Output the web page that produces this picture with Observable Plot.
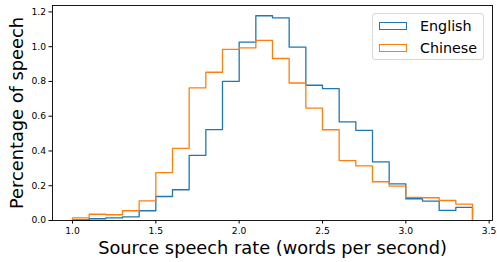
<!DOCTYPE html>
<html>
<head>
<meta charset="utf-8">
<script src="https://cdn.jsdelivr.net/npm/d3@7"></script>
<script src="https://cdn.jsdelivr.net/npm/@observablehq/plot@0.6"></script>
<style>
  html, body { margin: 0; padding: 0; background: #fff; }
  #wrap { position: relative; width: 497px; height: 262px; font-family: "DejaVu Sans", sans-serif; }
  #legend { position: absolute; left: 372px; top: 13px; width: 112px; height: 47px;
    border: 1px solid #d9d9d9; border-radius: 3px; background: rgba(255,255,255,0.8); box-sizing: border-box; }
  .item { position: absolute; left: 6px; height: 16px; display: flex; align-items: center; font-size: 14.3px; color: #000; }
  .sw { width: 28px; height: 8px; border: 1.3px solid; box-sizing: border-box; margin-right: 13px; }
</style>
</head>
<body>
<div id="wrap"></div>
<script>
const binEdges = [1.0,1.1,1.2,1.3,1.4,1.5,1.6,1.7,1.8,1.9,2.0,2.1,2.2,2.3,2.4,2.5,2.6,2.7,2.8,2.9,3.0,3.1,3.2,3.3,3.4];
const english = [0.003,0.010,0.015,0.021,0.056,0.138,0.177,0.375,0.523,0.800,1.026,1.178,1.166,0.997,0.778,0.759,0.567,0.519,0.337,0.211,0.125,0.111,0.058,0.075];
const chinese = [0.015,0.036,0.033,0.056,0.113,0.275,0.415,0.763,0.853,0.984,0.993,1.036,0.932,0.791,0.646,0.522,0.345,0.314,0.223,0.198,0.133,0.131,0.115,0.094];
const seriesNames = ["English", "Chinese"];
const seriesColors = ["#1f77b4", "#ff7f0e"];
const xTicks = [1.0,1.5,2.0,2.5,3.0,3.5];
const yTicks = [0.0,0.2,0.4,0.6,0.8,1.0,1.2];
const xLabel = "Source speech rate (words per second)";
const yLabel = "Percentage of speech";

function stepOutline(vals) {
  const pts = [{x: binEdges[0], y: 0}];
  vals.forEach((v, i) => pts.push({x: binEdges[i], y: v}));
  const last = binEdges[binEdges.length - 1];
  pts.push({x: last, y: vals[vals.length - 1]});
  pts.push({x: last, y: 0});
  return pts;
}

const lo = binEdges[0], hi = binEdges[binEdges.length - 1];
const pad = (hi - lo) * 0.05;
const ymax = Math.max(...english, ...chinese) * 1.05;

const chart = Plot.plot({
  width: 497, height: 262,
  marginLeft: 52, marginRight: 5, marginTop: 5, marginBottom: 42,
  style: {fontFamily: "DejaVu Sans, sans-serif", background: "white", overflow: "visible"},
  x: {domain: [lo - pad, hi + pad]},
  y: {domain: [0, ymax]},
  marks: [
    Plot.axisX({ticks: xTicks, tickFormat: d3.format(".1f"), tickSize: 3.5, tickPadding: 3, fontSize: 9.2, label: null, stroke: "#000"}),
    Plot.axisY({ticks: yTicks, tickFormat: d3.format(".1f"), tickSize: 3.5, tickPadding: 3, fontSize: 9.2, label: null, stroke: "#000"}),
    Plot.line(stepOutline(english), {x: "x", y: "y", curve: "step-after", stroke: seriesColors[0], strokeWidth: 1.3}),
    Plot.line(stepOutline(chinese), {x: "x", y: "y", curve: "step-after", stroke: seriesColors[1], strokeWidth: 1.3}),
    Plot.frame({stroke: "#000", strokeWidth: 0.9}),
    Plot.text([xLabel], {frameAnchor: "bottom", textAnchor: "middle", dy: 33, fontSize: 17.8, fill: "#000"}),
    Plot.text([yLabel], {frameAnchor: "left", textAnchor: "middle", rotate: -90, dx: -35, fontSize: 17.8, fill: "#000"})
  ]
});

const wrap = document.getElementById("wrap");
wrap.appendChild(chart);
const legend = document.createElement("div");
legend.id = "legend";
seriesNames.forEach((name, i) => {
  const item = document.createElement("div");
  item.className = "item";
  item.style.top = (4 + i * 21.5) + "px";
  const sw = document.createElement("span");
  sw.className = "sw";
  sw.style.borderColor = seriesColors[i];
  item.appendChild(sw);
  item.appendChild(document.createTextNode(name));
  legend.appendChild(item);
});
wrap.appendChild(legend);
</script>
</body>
</html>
